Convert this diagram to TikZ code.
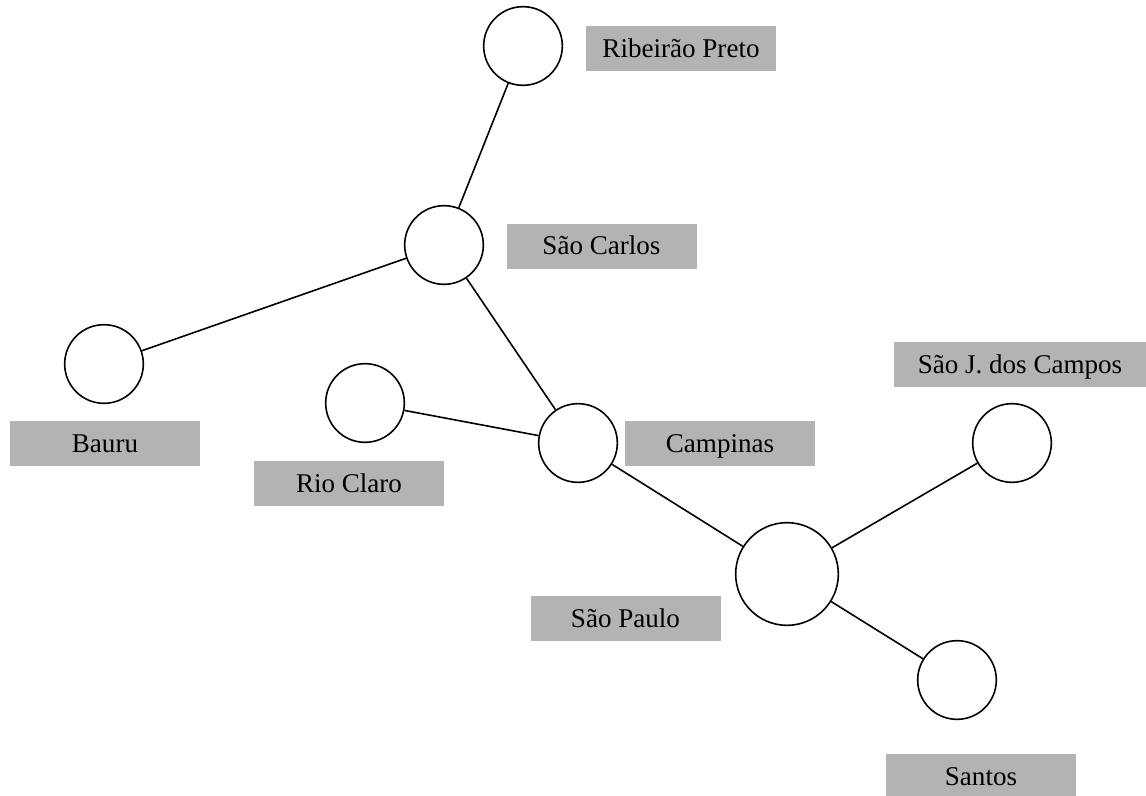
\documentclass[tikz,border=0pt]{standalone}
\usepackage{fontspec}
\setmainfont{Liberation Serif}
\definecolor{labelgray}{RGB}{179,179,179}
\begin{document}
\begin{tikzpicture}[
  x=0.75pt, y=-0.75pt,
  city/.style={circle, draw, line width=1.2pt, fill=white, minimum size=59pt, inner sep=0pt},
  bigcity/.style={city, minimum size=77pt},
  tag/.style={rectangle, fill=labelgray, minimum width=142.5pt, minimum height=33.75pt,
              inner sep=0pt, font=\fontsize{20.3pt}{24pt}\selectfont,
              text height=13.4pt, text depth=0pt},
  road/.style={line width=1.2pt}
]
\useasboundingbox (0,0) rectangle (1146,796);
\clip (0,0) rectangle (1146,796);

% cities
\node[city] (rp)  at (523,46)  {};
\node[city] (sc)  at (444,245) {};
\node[city] (ba)  at (104,364) {};
\node[city] (rc)  at (365,403) {};
\node[city] (cp)  at (578,443) {};
\node[bigcity] (sp) at (787,574) {};
\node[city] (sj)  at (1012,443) {};
\node[city] (st)  at (957,680) {};

% roads
\draw[road] (rp) -- (sc);
\draw[road] (sc) -- (ba);
\draw[road] (sc) -- (cp);
\draw[road] (rc) -- (cp);
\draw[road] (cp) -- (sp);
\draw[road] (sp) -- (sj);
\draw[road] (sp) -- (st);

% names
\node[tag] (lrp) at (681,48.5)   {Ribeirão Preto};
\node[tag] (lsc) at (601.5,246)  {São Carlos};
\node[tag] (lba) at (105,443.5)  {Bauru};
\node[tag] (lrc) at (349,483.5)  {Rio Claro};
\node[tag] (lcp) at (720,443.5)  {Campinas};
\node[tag] (lsp) at (625.5,618.5) {São Paulo};
\node[tag, minimum width=189pt] (lsj) at (1020,364.5) {São J. dos Campos};
\node[tag] (lst) at (981,776.5)  {Santos};
\end{tikzpicture}
\end{document}
